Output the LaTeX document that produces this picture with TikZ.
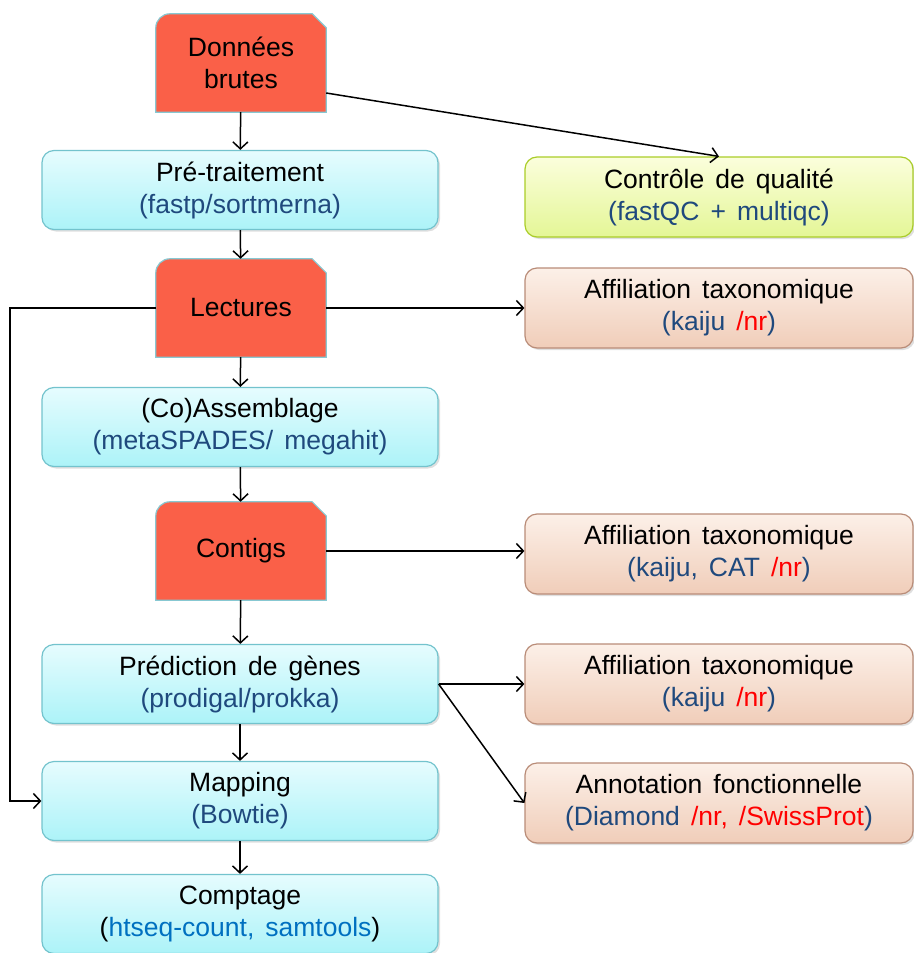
\documentclass[tikz,border=0pt]{standalone}
\usepackage{fontspec}
\setmainfont{Liberation Sans}[WordSpace=1.5]
\usetikzlibrary{arrows.meta,shadows,backgrounds}
\definecolor{docred}{RGB}{250,96,72}
\definecolor{docline}{RGB}{135,200,210}
\definecolor{proctop}{RGB}{230,252,254}
\definecolor{procbot}{RGB}{172,243,248}
\definecolor{procline}{RGB}{115,195,205}
\definecolor{qctop}{RGB}{251,254,220}
\definecolor{qcbot}{RGB}{228,246,150}
\definecolor{qcline}{RGB}{170,205,40}
\definecolor{afftop}{RGB}{252,240,232}
\definecolor{affbot}{RGB}{240,205,185}
\definecolor{affline}{RGB}{185,140,120}
\definecolor{toolblue}{RGB}{31,73,125}
\definecolor{toollight}{RGB}{0,112,192}
\definecolor{dbred}{RGB}{255,0,0}

\begin{document}
\begin{tikzpicture}[x=1pt,y=-1pt,>={Straight Barb[length=7pt,width=15pt]},
 box/.style={draw,rounded corners=12pt,align=center,line width=1.2pt,
   font=\fontsize{26.5}{32}\selectfont,
   drop shadow={opacity=0.25,shadow xshift=2pt,shadow yshift=-2pt}},
 proc/.style={box,draw=procline,top color=proctop,bottom color=procbot,
   minimum width=396pt,minimum height=79pt},
 qc/.style={box,draw=qcline,top color=qctop,bottom color=qcbot,
   minimum width=388pt,minimum height=80pt},
 aff/.style={box,draw=affline,top color=afftop,bottom color=affbot,
   minimum width=388pt,minimum height=80pt},
 doc/.style={minimum width=170pt,minimum height=98pt,align=center,
   font=\fontsize{26.5}{32}\selectfont},
 arr/.style={->,line width=1.5pt}]
\useasboundingbox (0,0) rectangle (913,953);

% main pipeline
\node[doc] (raw) at (241,63) {Données\\brutes};
\node[proc] (pre) at (240,190) {Pré-traitement\\\textcolor{toolblue}{(fastp/sortmerna)}};
\node[doc] (reads) at (241,308) {Lectures};
\node[proc] (asm) at (240,427) {(Co)Assemblage\\\textcolor{toolblue}{(metaSPADES/ megahit)}};
\node[doc] (contigs) at (241,551) {Contigs};
\node[proc] (pred) at (240,684) {Prédiction de gènes\\\textcolor{toolblue}{(prodigal/prokka)}};
\node[proc] (map) at (240,801) {Mapping\\\textcolor{toolblue}{(Bowtie)}};
\node[proc] (count) at (240,914) {Comptage\\(\textcolor{toollight}{htseq-count, samtools})};

% side analyses
\node[qc] (qc) at (719,197) {Contrôle de qualité\\\textcolor{toolblue}{(fastQC + multiqc)}};
\node[aff] (taxreads) at (719,308) {Affiliation taxonomique\\\textcolor{toolblue}{(kaiju \textcolor{dbred}{/nr})}};
\node[aff] (taxcontigs) at (719,554) {Affiliation taxonomique\\\textcolor{toolblue}{(kaiju, CAT \textcolor{dbred}{/nr})}};
\node[aff] (taxgenes) at (719,684) {Affiliation taxonomique\\\textcolor{toolblue}{(kaiju \textcolor{dbred}{/nr})}};
\node[aff] (annot) at (719,803) {Annotation fonctionnelle\\\textcolor{toolblue}{(Diamond \textcolor{dbred}{/nr, /SwissProt})}};

% document shapes behind the red nodes
\begin{scope}[on background layer]
\foreach \n in {raw,reads,contigs}{
  \fill[black,opacity=0.2,xshift=2pt,yshift=-2pt] (\n.south west) -- ([yshift=-14pt]\n.north west)
    arc[start angle=180,end angle=90,radius=14pt] -- ([xshift=-14pt]\n.north east)
    -- ([yshift=-14pt]\n.north east) -- (\n.south east) -- cycle;
  \filldraw[fill=docred,draw=docline,line width=1.2pt] (\n.south west) -- ([yshift=-14pt]\n.north west)
    arc[start angle=180,end angle=90,radius=14pt] -- ([xshift=-14pt]\n.north east)
    -- ([yshift=-14pt]\n.north east) -- (\n.south east) -- cycle;
}
\end{scope}

\draw[arr] (raw) -- (pre);
\draw[arr] (pre) -- (reads);
\draw[arr] (reads) -- (asm);
\draw[arr] (asm) -- (contigs);
\draw[arr] (contigs) -- (pred);
\draw[arr] (pred) -- (map);
\draw[arr] (map) -- (count);

\draw[arr] ([yshift=-30pt]raw.east) -- (qc.north);
\draw[arr] (reads) -- (taxreads);
\draw[arr] (contigs.east) -- (contigs.east -| taxcontigs.west);
\draw[arr] (pred.east) -- (taxgenes.west);
\draw[arr] (pred.east) -- (annot.west);
\draw[arr] (reads.west) -- ++(-146,0) |- (map.west);
\end{tikzpicture}
\end{document}
